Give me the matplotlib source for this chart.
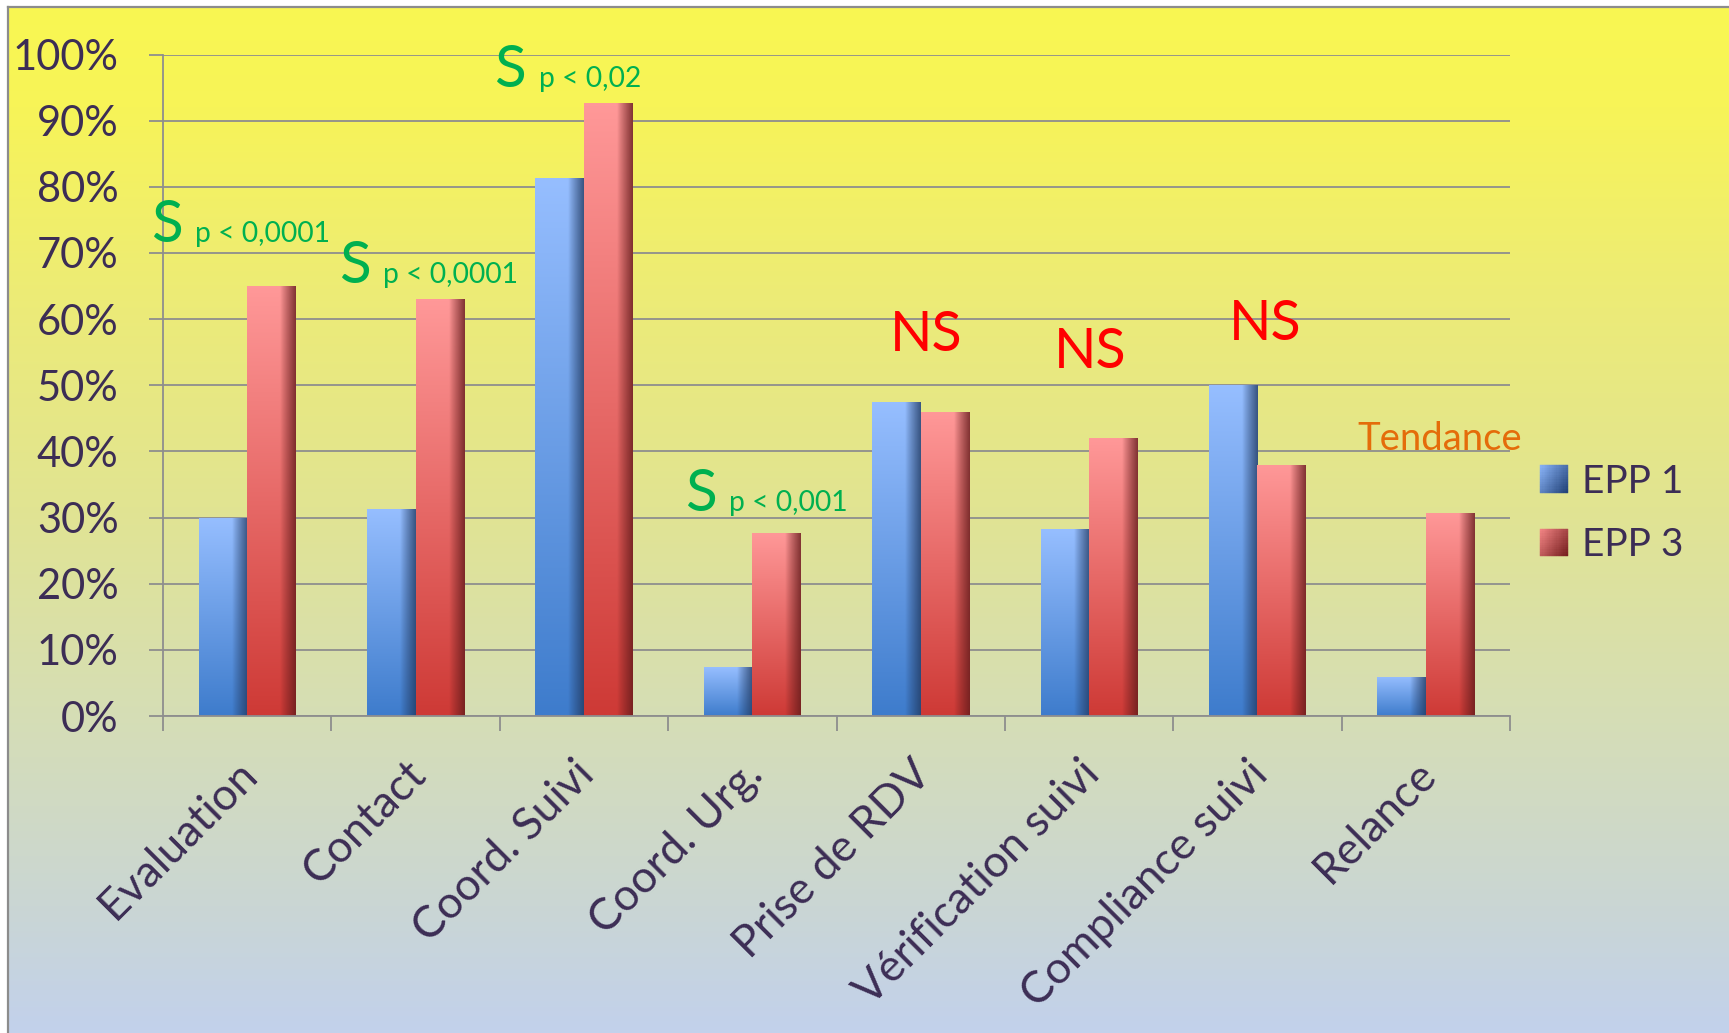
import numpy as np
import matplotlib
matplotlib.use("Agg")
import matplotlib.pyplot as plt
from matplotlib.patches import Rectangle
from matplotlib.lines import Line2D
from matplotlib.legend_handler import HandlerBase
from matplotlib.transforms import ScaledTranslation

plt.rcParams["font.family"] = ["Lato", "DejaVu Sans"]

# ---- data -------------------------------------------------------------
categories = ["Evaluation", "Contact", "Coord. Suivi", "Coord. Urg.",
              "Prise de RDV", "Vérification suivi", "Compliance suivi", "Relance"]
epp1 = [30.0, 31.3, 81.4, 7.4, 47.4, 28.2, 50.0, 5.9]
epp3 = [65.0, 63.0, 92.6, 27.7, 46.0, 42.0, 38.0, 30.7]
series_names = ["EPP 1", "EPP 3"]
yticks = [0, 10, 20, 30, 40, 50, 60, 70, 80, 90, 100]
ytick_labels = [f"{v}%" for v in yticks]

# significance notes: (main mark, p-value text)
sig_marks = ["S", "S", "S", "S", "NS", "NS", "NS", "Tendance"]
sig_pvals = ["p < 0,0001", "p < 0,0001", "p < 0,02", "p < 0,001", "", "", "", ""]

# ---- layout / style ---------------------------------------------------
sig_xy = [(-0.573, 71.7), (0.543, 65.5), (1.469, 95.1), (2.598, 31.0),
          (3.815, 55.2), (4.789, 52.6), (5.828, 56.8), (6.596, 40.2)]
TEXT = "#3C2D55"
GRID = "#8E8E8E"
GREEN = "#00B050"
RED = "#FF0000"
ORANGE = "#E46C0A"

W, H = 1729, 1033
fig = plt.figure(figsize=(W / 100, H / 100), dpi=100)
fig.patch.set_facecolor("white")

# background gradient panel
bg = fig.add_axes([8 / W, 0, 1 - 8 / W, (H - 7) / H], zorder=-5)
stops_y = np.array([0, 100, 300, 500, 700, 900, 1026]) / 1026
stops_c = np.array([[249, 247, 82], [247, 244, 88], [236, 235, 120],
                    [225, 228, 146], [214, 222, 180], [202, 214, 212],
                    [194, 209, 236]]) / 255
yy = np.linspace(0, 1, 512)
grad = np.stack([np.interp(yy, stops_y, stops_c[:, k]) for k in range(3)], axis=-1)
bg.imshow(grad[:, None, :], aspect="auto", extent=[0, 1, 0, 1], origin="upper")
bg.set_axis_off()
fig.add_artist(Line2D([8 / W, 1], [1 - 7 / H, 1 - 7 / H], color="#8C8C8C", lw=1.6))
fig.add_artist(Line2D([8 / W, 8 / W], [0, 1 - 7 / H], color="#8C8C8C", lw=1.6))

# main axes
x0, x1 = 163, 1510
y0, y1 = 716, 54.5
ax = fig.add_axes([x0 / W, (H - y0) / H, (x1 - x0) / W, (y0 - y1) / H])
ax.patch.set_alpha(0)

x = np.arange(len(categories))
bw = 0.288


def bar_gradient(top, bottom, shade, n=96, m=64):
    top, bottom, shade = (np.array(c) / 255 for c in (top, bottom, shade))
    t = np.linspace(0, 1, n)[:, None, None]
    s = np.linspace(0, 1, m)[None, :, None]
    base = top * (1 - t) + bottom * t
    w = np.clip((s - 0.68) / 0.32, 0, 1) ** 0.9 * 0.8
    return base * (1 - w) + shade * w


grad_blue = bar_gradient((150, 190, 255), (62, 124, 204), (35, 60, 100))
grad_red = bar_gradient((255, 152, 152), (206, 58, 54), (100, 28, 28))

bars1 = ax.bar(x - bw / 2, epp1, bw, color="none", edgecolor="none", zorder=3)
bars3 = ax.bar(x + bw / 2, epp3, bw, color="none", edgecolor="none", zorder=3)
for bars, g in ((bars1, grad_blue), (bars3, grad_red)):
    for b in bars:
        bx, bwid, bh = b.get_x(), b.get_width(), b.get_height()
        im = ax.imshow(g, extent=[bx, bx + bwid, 0, bh], aspect="auto",
                       origin="upper", interpolation="bilinear", zorder=2.5)
        im.set_clip_path(b)

ax.set_xlim(-0.5, len(categories) - 0.5)
ax.set_ylim(0, 100)

# axes styling
for side in ("top", "right"):
    ax.spines[side].set_visible(False)
for side in ("left", "bottom"):
    ax.spines[side].set_color(GRID)
    ax.spines[side].set_linewidth(1.3)
ax.set_yticks(yticks)
ax.set_yticklabels(ytick_labels)
ax.yaxis.grid(True, color=GRID, lw=1.3, zorder=0)
ax.set_axisbelow(True)
ax.tick_params(axis="y", length=10, width=1.3, color=GRID, pad=22,
               labelsize=30, labelcolor=TEXT)

ax.set_xticks(x)
ax.set_xticklabels(categories)
ax.set_xticks(np.arange(-0.5, len(categories), 1), minor=True)
ax.tick_params(axis="x", which="major", length=0, pad=37, labelsize=32,
               labelcolor=TEXT)
ax.tick_params(axis="x", which="minor", length=11, width=1.3, color=GRID)
shift = ScaledTranslation(4 / 100, 0, fig.dpi_scale_trans)
for lab in ax.get_xticklabels():
    lab.set_rotation(45)
    lab.set_rotation_mode("anchor")
    lab.set_ha("right")
    lab.set_va("center")
    lab.set_transform(lab.get_transform() + shift)

# significance annotations
for mark, pv, (sx, sy) in zip(sig_marks, sig_pvals, sig_xy):
    if mark == "S":
        ax.text(sx, sy, mark, color=GREEN, fontsize=42, ha="left", va="baseline",
                zorder=5, clip_on=False)
        ax.annotate(pv, xy=(sx, sy), xytext=(32, 0), textcoords="offset points",
                    color=GREEN, fontsize=20.3, ha="left", va="baseline",
                    annotation_clip=False, zorder=5)
    elif mark == "NS":
        ax.text(sx, sy, mark, color=RED, fontsize=40, ha="left", va="baseline",
                zorder=5, clip_on=False)
    else:
        ax.text(sx, sy, mark, color=ORANGE, fontsize=27.5, ha="left", va="baseline",
                zorder=5, clip_on=False)


# legend with shaded squares
class GradientSquare(HandlerBase):
    def __init__(self, light, dark, n=12):
        super().__init__()
        self.light = np.array(light) / 255
        self.dark = np.array(dark) / 255
        self.n = n

    def create_artists(self, legend, orig_handle, xdescent, ydescent,
                       width, height, fontsize, trans):
        n = self.n
        arts = []
        for i in range(n):
            for j in range(n):
                u = (i + 0.5) / n
                v = (j + 0.5) / n
                k = 0.6 * u + 0.4 * (1 - v)
                c = self.light * (1 - k) + self.dark * k
                arts.append(Rectangle((-xdescent + i * width / n, -ydescent + j * height / n),
                                      width / n, height / n, facecolor=c, edgecolor=c,
                                      lw=0.3, transform=trans))
        return arts


h1 = Rectangle((0, 0), 1, 1)
h3 = Rectangle((0, 0), 1, 1)
fig.legend([h1, h3], series_names, loc="center left",
           bbox_to_anchor=(1540 / W, (H - 513.5) / H), frameon=False,
           fontsize=28, labelcolor=TEXT, handlelength=0.72, handleheight=0.72,
           handletextpad=0.36, labelspacing=0.7, borderpad=0, borderaxespad=0,
           handler_map={h1: GradientSquare((140, 182, 250), (30, 62, 115)),
                        h3: GradientSquare((245, 135, 135), (115, 28, 28))})

fig.savefig("out.png", dpi=100)
